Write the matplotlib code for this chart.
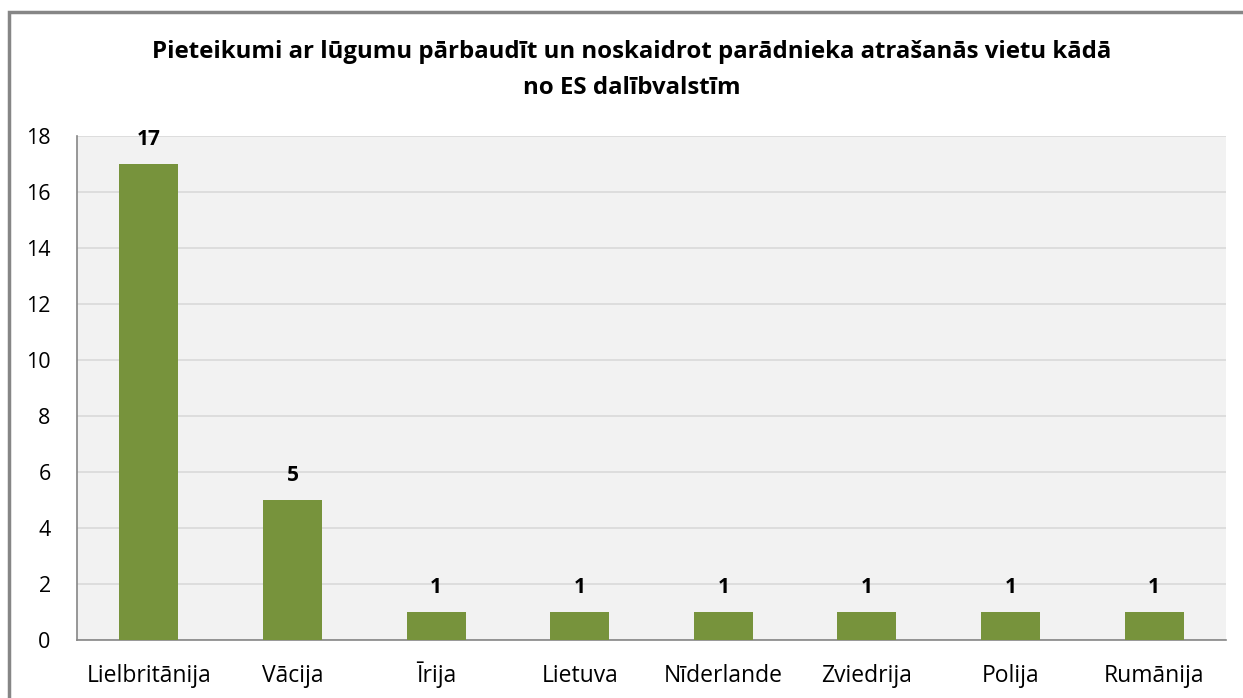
import matplotlib.pyplot as plt
from matplotlib.patches import Rectangle
import numpy as np

countries = ['Lielbritānija', 'Vācija', 'Īrija', 'Lietuva', 'Nīderlande',
             'Zviedrija', 'Polija', 'Rumānija']
counts = [17, 5, 1, 1, 1, 1, 1, 1]
y_ticks = [0, 2, 4, 6, 8, 10, 12, 14, 16, 18]
title = ('Pieteikumi ar lūgumu pārbaudīt un noskaidrot parādnieka atrašanās vietu kādā\n'
         'no ES dalībvalstīm')

plt.rcParams['font.family'] = ['Open Sans', 'DejaVu Sans']

fig = plt.figure(figsize=(12.43, 6.98), dpi=100)
ax = fig.add_axes([0.062, 0.0831, 0.9243, 0.7221])

# outer chart border (cut off on the right and bottom like the screenshot)
fig.add_artist(Rectangle((9 / 1243, -0.1), 1.2, 1 - 12 / 698 + 0.1,
                         transform=fig.transFigure, fill=False,
                         edgecolor='#868686', linewidth=2.5))

x = np.arange(len(countries))
ax.set_facecolor('#f2f2f2')
ax.bar(x, counts, width=0.41, color='#77933c', zorder=3)
for xi, v in zip(x, counts):
    ax.text(xi, v + 0.5, str(v), ha='center', va='bottom',
            fontsize=15, fontweight='bold', color='black')

ax.set_xlim(-0.5, len(countries) - 0.5)
ax.set_ylim(0, 18)
ax.set_yticks(y_ticks)
ax.yaxis.grid(True, color='#d9d9d9', linewidth=1.2, zorder=0)
ax.set_xticks(x)
ax.set_xticklabels(countries, fontsize=16.5, va='baseline')
ax.tick_params(axis='y', labelsize=15.5, length=0, pad=19)
ax.tick_params(axis='x', length=0, pad=30)
for s in ['top', 'right']:
    ax.spines[s].set_visible(False)
for s in ['left', 'bottom']:
    ax.spines[s].set_color('#868686')
    ax.spines[s].set_linewidth(1.2)

fig.text(0.508, 0.9, title, ha='center', va='center', fontsize=17.3,
         fontweight='bold', linespacing=1.7)

fig.savefig('out.png', dpi=100)
